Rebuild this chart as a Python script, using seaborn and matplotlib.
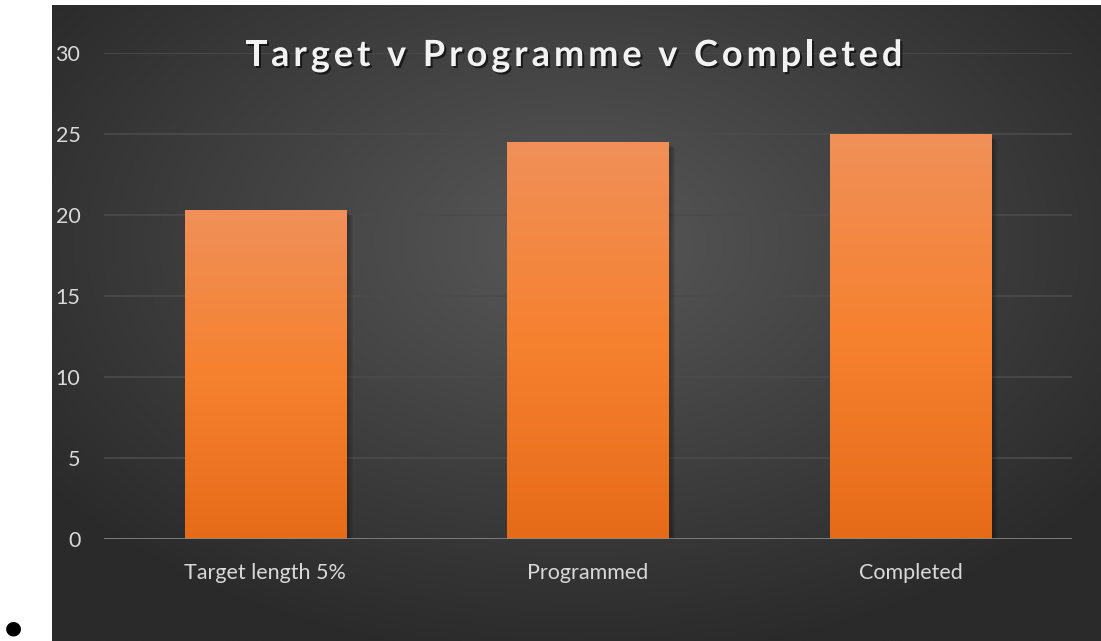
import numpy as np
import matplotlib
matplotlib.use('Agg')
import matplotlib.pyplot as plt
import matplotlib.patheffects as pe
from matplotlib.colors import LinearSegmentedColormap
import pandas as pd
import seaborn as sns

# chart data
categories = ['Target length 5%', 'Programmed', 'Completed']
values = [20.3, 24.45, 24.95]
yticks = [0, 5, 10, 15, 20, 25, 30]
title = 'Target v Programme v Completed'

df = pd.DataFrame({'category': categories, 'value': values})

sns.set_style('white')
plt.rcParams['font.family'] = ['Lato', 'DejaVu Sans']

W, H = 1101, 641
fig = plt.figure(figsize=(W / 100, H / 100), dpi=100)
fig.patch.set_facecolor('white')

# dark panel with a soft radial gradient
bg = fig.add_axes([52 / W, 0, (W - 52) / W, (H - 5) / H], zorder=0)
yy, xx = np.mgrid[-1:1:300j, -1:1:600j]
r = np.sqrt((xx * 0.95) ** 2 + ((yy + 0.25) * 0.9) ** 2)
bg_cmap = LinearSegmentedColormap.from_list('bg', ['#585858', '#2a2a2a'])
bg.imshow(np.clip(r, 0, 1.2), cmap=bg_cmap, aspect='auto', extent=[0, 1, 0, 1])
bg.set_axis_off()

# main plot area
ax = fig.add_axes([104 / W, 102 / H, (1072 - 104) / W, 486 / H], zorder=1)
ax.patch.set_alpha(0)

sns.barplot(data=df, x='category', y='value', color='#f4802d', width=0.5, ax=ax)

# vertical gradient on each bar + soft shadow
bar_cmap = LinearSegmentedColormap.from_list('bar', ['#e66b18', '#f6812f', '#f09059'])
grad = np.linspace(0, 1, 256).reshape(-1, 1)
for p in ax.patches:
    x0, w, h = p.get_x(), p.get_width(), p.get_height()
    for k in range(6):
        ax.add_patch(plt.Rectangle((x0 + 0.006 + k * 0.003, 0), w, h - 0.15 - k * 0.03,
                                   color='black', alpha=0.05, lw=0, zorder=1.5))
    ax.imshow(grad, cmap=bar_cmap, origin='lower', aspect='auto',
              extent=[x0, x0 + w, 0, h], zorder=3)
    p.set_visible(False)

ax.set_xlim(-0.5, 2.5)
ax.set_ylim(0, 30)
ax.set_yticks(yticks)
ax.yaxis.grid(True, color='#4b4b4b', lw=1.2)
ax.set_axisbelow(True)
ax.axhline(0, color='#8a8a8a', lw=1.8, zorder=4)
for s in ax.spines.values():
    s.set_visible(False)
ax.tick_params(axis='both', length=0, colors='#d9d9d9', labelsize=15.5)
ax.tick_params(axis='y', pad=17)
ax.tick_params(axis='x', pad=17)
ax.set_xlabel('')
ax.set_ylabel('')

# title with wide letter spacing, placed character by character
renderer = fig.canvas.get_renderer()
tkw = dict(fontsize=26, fontweight='bold', color='#f2f2f2', va='baseline', ha='left', zorder=5,
           path_effects=[pe.withSimplePatchShadow(offset=(1.5, -1.5), shadow_rgbFace='black', alpha=0.6)])

def text_width(s):
    t = fig.text(0, 0, s + '|', **tkw)
    bar = fig.text(0, 0, '|', **tkw)
    w = t.get_window_extent(renderer).width - bar.get_window_extent(renderer).width
    t.remove()
    bar.remove()
    return w

natural = text_width(title)
target_w = 657
spacing = (target_w - natural) / (len(title) - 1)
left = 574 - target_w / 2
for i, ch in enumerate(title):
    if ch == ' ':
        continue
    xpos = left + text_width(title[:i]) + i * spacing
    fig.text(xpos / W, 1 - 66 / H, ch, **tkw)

fig.text(13 / W, 1 - 628 / H, '\u25cf', ha='center', va='center', fontsize=14, color='black',
         family=['DejaVu Sans'])

plt.savefig('out.png', dpi=100)
